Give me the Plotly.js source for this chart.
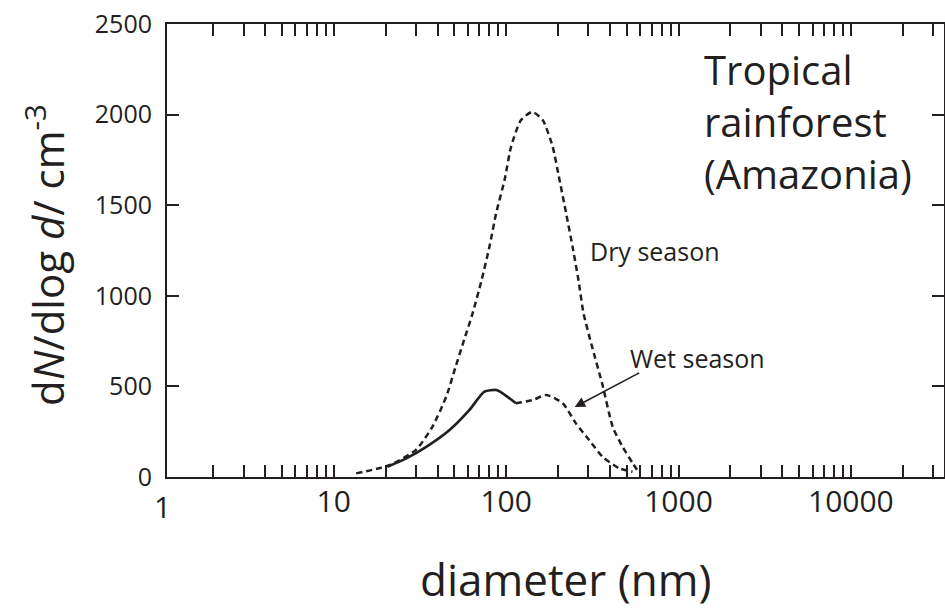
<!DOCTYPE html>
<html>
<head>
<meta charset="utf-8">
<script src="https://cdn.plot.ly/plotly-3.0.1.min.js"></script>
<style>
  html, body { margin: 0; padding: 0; background: #ffffff; }
  #chart { width: 945px; height: 609px; }
</style>
</head>
<body>
<div id="chart"></div>
<script>
// Aerosol number size distributions, tropical rainforest (Amazonia)

// Dry season (dashed)
const dryDiameter = [13.5, 21, 30, 37.5, 45, 51, 57, 64, 72, 80, 87.5, 98, 107, 122, 142,
                     163, 186, 204, 223, 243, 263, 281, 313, 362, 416, 475, 543, 594];
const dryConc     = [20, 65, 150, 280, 445, 610, 755, 905, 1085, 1270, 1455, 1640, 1825, 1970, 2015,
                     1970, 1825, 1640, 1455, 1270, 1085, 905, 730, 510, 275, 165, 75, 20];

// Wet season: measured part (solid) and continuation (dashed)
const wetSolidDiameter = [20.5, 26.4, 34.4, 47, 61.3, 74.8, 87.5, 95.5, 114];
const wetSolidConc     = [57, 103, 166, 259, 370, 471, 480, 462, 407];
const wetDashDiameter  = [114, 143, 171, 213, 254, 303, 362, 453, 541];
const wetDashConc      = [407, 425, 453, 407, 296, 204, 112, 48, 29];

// Axis ticks
const xMajorTicks  = [10, 100, 1000, 10000];
const xMajorLabels = ['10', '100', '1000', '10000'];
const xFirstLabel  = '1';
const yTicks       = [0, 500, 1000, 1500, 2000, 2500];
const yTickLabels  = ['0', '500', '1000', '1500', '2000', '2500'];

// minor ticks at 2..9 of every decade inside the axis range
const xMinorTicks = [];
for (const decade of [1, 10, 100, 1000, 10000]) {
  for (let k = 2; k <= 9; k++) {
    if (decade * k < 34000) xMinorTicks.push(decade * k);
  }
}

const INK = '#231f20';
const FONT = '"Open Sans", "Noto Sans", sans-serif';

// plot-area geometry in pixels, used to place free text in paper units
const W = 945, H = 609, ML = 167, MR = 1, MT = 24, MB = 132;
const PW = W - ML - MR, PH = H - MT - MB;
const px = x => (x - ML) / PW;
const py = y => (H - MB - y) / PH;

const traces = [
  {
    x: wetSolidDiameter, y: wetSolidConc, type: 'scatter', mode: 'lines',
    line: { color: INK, width: 2.7, shape: 'spline', smoothing: 0.6 },
    hoverinfo: 'skip', showlegend: false
  },
  {
    x: wetDashDiameter, y: wetDashConc, type: 'scatter', mode: 'lines',
    line: { color: INK, width: 2.5, dash: '6px,4px', shape: 'spline', smoothing: 0.6 },
    hoverinfo: 'skip', showlegend: false
  },
  {
    x: dryDiameter, y: dryConc, type: 'scatter', mode: 'lines',
    line: { color: INK, width: 2.5, dash: '6px,4px', shape: 'spline', smoothing: 0.6 },
    hoverinfo: 'skip', showlegend: false
  }
];

const layout = {
  width: W, height: H,
  margin: { l: ML, r: MR, t: MT, b: MB, pad: 0 },
  paper_bgcolor: '#ffffff', plot_bgcolor: '#ffffff',
  font: { family: FONT, color: INK },
  showlegend: false,
  xaxis: {
    type: 'log',
    range: [0.033, 4.54],
    tickmode: 'array', tickvals: xMajorTicks, ticktext: xMajorLabels,
    ticks: 'inside', ticklen: 12, tickwidth: 2, tickcolor: INK,
    minor: { tickmode: 'array', tickvals: xMinorTicks, ticks: 'inside', ticklen: 12, tickwidth: 2, tickcolor: INK, showgrid: false },
    ticklabelstandoff: -3,
    tickfont: { family: FONT, size: 30, color: INK },
    showline: true, linecolor: INK, linewidth: 2, mirror: 'ticks',
    showgrid: false, zeroline: false
  },
  yaxis: {
    range: [0, 2500],
    tickmode: 'array', tickvals: yTicks, ticktext: yTickLabels,
    ticks: 'inside', ticklen: 12, tickwidth: 2, tickcolor: INK,
    ticklabelstandoff: 8,
    tickfont: { family: FONT, size: 25, color: INK },
    showline: true, linecolor: INK, linewidth: 2, mirror: 'ticks',
    showgrid: false, zeroline: false
  },
  annotations: [
    // x-axis title
    { xref: 'paper', yref: 'paper', x: px(565), y: py(579), xanchor: 'center', yanchor: 'middle',
      text: 'diameter (nm)', showarrow: false, borderpad: 0,
      font: { family: FONT, size: 44, color: INK } },
    // y-axis title
    { xref: 'paper', yref: 'paper', x: px(46), y: py(255), xanchor: 'center', yanchor: 'middle',
      textangle: -90, showarrow: false,
      text: 'd<i>N</i>/dlog <i>d</i>/ cm<sup>-3</sup>',
      font: { family: FONT, size: 42, color: INK } },
    // first decade label at the left edge of the axis
    { xref: 'paper', yref: 'paper', x: px(162), y: 0, text: xFirstLabel, showarrow: false,
      xanchor: 'center', yanchor: 'top', yshift: -7,
      font: { family: FONT, size: 30, color: INK } },
    { xref: 'paper', yref: 'paper', x: px(702), y: py(40), xanchor: 'left', yanchor: 'top', align: 'left',
      text: 'Tropical<br>rainforest<br>(Amazonia)', showarrow: false,
      font: { family: FONT, size: 40, color: INK } },
    { xref: 'paper', yref: 'paper', x: px(588), y: py(251), xanchor: 'left', yanchor: 'middle',
      text: 'Dry season', showarrow: false, font: { family: FONT, size: 25, color: INK } },
    { xref: 'paper', yref: 'paper', x: px(628), y: py(358), xanchor: 'left', yanchor: 'middle',
      text: 'Wet season', showarrow: false, font: { family: FONT, size: 25, color: INK } },
    { xref: 'x', yref: 'y', x: Math.log10(250), y: 386, text: '', showarrow: true,
      ax: 66, ay: -35, arrowhead: 2, arrowsize: 1.3, arrowwidth: 1.6, arrowcolor: INK }
  ]
};

Plotly.newPlot('chart', traces, layout, { displayModeBar: false, staticPlot: true });
</script>
</body>
</html>
